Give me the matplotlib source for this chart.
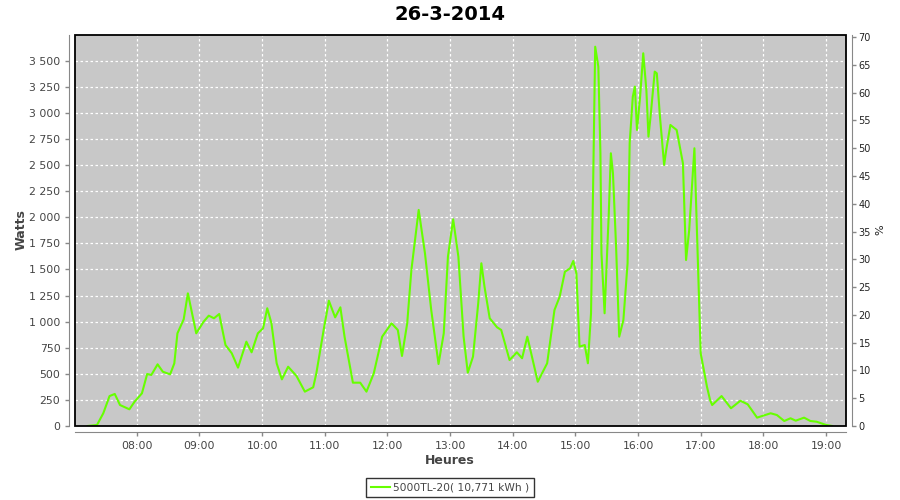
import matplotlib
matplotlib.use("Agg")
import matplotlib.pyplot as plt
from matplotlib.ticker import FuncFormatter
from matplotlib.patches import Rectangle

title = "26-3-2014"
series_name = "5000TL-20( 10,771 kWh )"

times = ["07:13", "07:22", "07:28", "07:34", "07:39", "07:44", "07:53", "07:58",
         "08:05", "08:10", "08:14", "08:20", "08:25", "08:32", "08:36", "08:39",
         "08:45", "08:49", "08:57", "09:04", "09:09", "09:14", "09:19", "09:25",
         "09:31", "09:37", "09:45", "09:50", "09:56", "10:01", "10:05", "10:09",
         "10:14", "10:19", "10:25", "10:33", "10:41", "10:49", "10:52", "10:59",
         "11:04", "11:10", "11:15", "11:19", "11:27", "11:34", "11:40", "11:47",
         "11:55", "12:04", "12:10", "12:14", "12:19", "12:23", "12:30", "12:36",
         "12:42", "12:49", "12:54", "12:58", "13:03", "13:08", "13:13", "13:17",
         "13:22", "13:27", "13:30", "13:33", "13:38", "13:45", "13:49", "13:57",
         "14:04", "14:09", "14:14", "14:24", "14:33", "14:40", "14:45", "14:50",
         "14:55", "14:58", "15:01", "15:04", "15:09", "15:12", "15:15", "15:17",
         "15:19", "15:22", "15:24", "15:25", "15:28", "15:32", "15:34", "15:36",
         "15:39", "15:42", "15:46", "15:50", "15:52", "15:55", "15:57", "15:59",
         "16:02", "16:05", "16:08", "16:10", "16:12", "16:16", "16:18", "16:21",
         "16:25", "16:27", "16:31", "16:37", "16:43", "16:46", "16:49", "16:51",
         "16:54", "16:56", "17:00", "17:03", "17:06", "17:09", "17:11", "17:20",
         "17:29", "17:38", "17:45", "17:54", "18:07", "18:13", "18:20", "18:26",
         "18:31", "18:39", "18:45", "18:51", "19:00", "19:06"]

watts = [0, 10, 122, 287, 307, 201, 160, 233,
         313, 498, 489, 591, 520, 495, 600, 888,
         1022, 1271, 888, 999, 1057, 1032, 1073, 776,
         697, 559, 808, 706, 888, 936, 1128, 984,
         601, 447, 568, 479, 329, 371, 505, 920,
         1200, 1041, 1137, 856, 415, 415, 329, 505,
         856, 984, 920, 671, 984, 1495, 2070, 1655,
         1111, 594, 888, 1622, 1980, 1622, 856, 511,
         664, 1176, 1559, 1335, 1032, 946, 920, 632,
         706, 649, 856, 424, 601, 1111, 1239, 1478,
         1511, 1581, 1463, 760, 776, 601, 1080, 2293,
         3634, 3443, 2613, 1655, 1080, 2038, 2613, 2421,
         1718, 856, 1016, 1559, 2709, 3155, 3251, 2836,
         3155, 3571, 3219, 2772, 2964, 3395, 3379, 2964,
         2501, 2644, 2884, 2836, 2517, 1590, 1878, 2197,
         2661, 2005, 697, 537, 377, 249, 201, 287,
         170, 242, 208, 80, 122, 105, 48, 74,
         51, 80, 48, 41, 10, 0]

hour_ticks = [8, 9, 10, 11, 12, 13, 14, 15, 16, 17, 18, 19]
watt_ticks = list(range(0, 3501, 250))
pct_ticks = list(range(0, 71, 5))

hours = [int(t[:2]) + int(t[3:]) / 60 for t in times]

fig = plt.figure(figsize=(9, 5), dpi=100)
ax = fig.add_axes([75 / 900, 74 / 500, (846 - 75) / 900, (426 - 35) / 500])
ax.set_facecolor("#C8C8C8")

ax.plot(hours, watts, color="#66FF00", lw=1.5, label=series_name, zorder=3)

ax.set_xlim(7.0153, 19.319)
ax.set_ylim(0, 3746)
ax.set_xticks(hour_ticks)
ax.xaxis.set_major_formatter(FuncFormatter(lambda v, p: "%02d:00" % int(round(v))))
ax.set_yticks(watt_ticks)
ax.yaxis.set_major_formatter(FuncFormatter(lambda v, p: f"{int(v):,}".replace(",", " ")))

ax.grid(True, color="white", linestyle=(0, (2, 2)), lw=0.9, zorder=1)

gray = "#888888"
txt = "#444444"
for s in ("left", "bottom"):
    ax.spines[s].set_position(("outward", 4))
    ax.spines[s].set_color(gray)
ax.spines["top"].set_visible(False)
ax.spines["right"].set_visible(False)
ax.tick_params(axis="both", colors=gray, labelcolor=txt, labelsize=7.8, length=3,
               width=1, pad=3.5)

ax.add_patch(Rectangle((0, 0), 1, 1, transform=ax.transAxes, fill=False,
                       edgecolor="black", lw=1.3, clip_on=False, zorder=5))

ax2 = ax.twinx()
ax2.set_ylim(0, 70.36)
ax2.set_yticks(pct_ticks)
for s in ("left", "top", "bottom"):
    ax2.spines[s].set_visible(False)
ax2.spines["right"].set_position(("outward", 4))
ax2.spines["right"].set_color(gray)
ax2.tick_params(axis="y", colors=gray, labelcolor="#222222", labelsize=7, length=3,
                width=1, pad=2)

fig.text(0.5, 1 - 14 / 500, title, ha="center", va="center", fontsize=14,
         fontweight="bold", color="black")
fig.text(21 / 900, 1 - 230 / 500, "Watts", ha="center", va="center", rotation=90,
         fontsize=9, fontweight="bold", color=txt)
fig.text(880 / 900, 1 - 230 / 500, "%", ha="center", va="center", rotation=90,
         fontsize=8, color="#222222")
fig.text(0.5, 1 - 460 / 500, "Heures", ha="center", va="center",
         fontsize=9, fontweight="bold", color=txt)

leg = fig.legend(loc="center", bbox_to_anchor=(0.5, 1 - 487.5 / 500), fontsize=7.7,
                 frameon=True, fancybox=False, handlelength=1.8, handletextpad=0.3,
                 borderpad=0.45, labelcolor=txt)
leg.get_frame().set_edgecolor("black")
leg.get_frame().set_linewidth(1.0)

fig.savefig("out.png", dpi=100)
